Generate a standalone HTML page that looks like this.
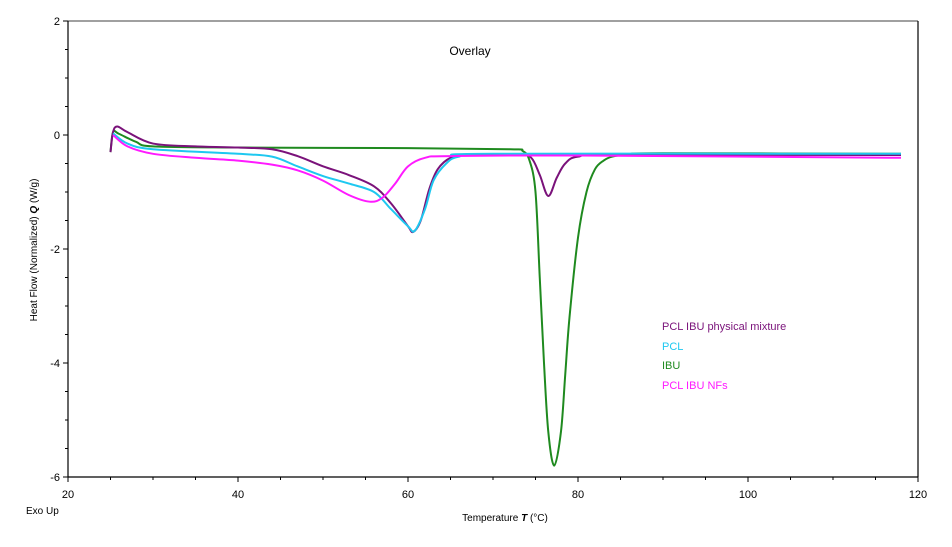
<!DOCTYPE html>
<html><head><meta charset="utf-8"><style>
html,body{margin:0;padding:0;background:#fff;}
svg{display:block;font-family:"Liberation Sans",Arial,sans-serif;}
</style></head><body>
<svg id="chart" width="952" height="547" viewBox="0 0 952 547">
<text x="470" y="55" font-size="12" text-anchor="middle">Overlay</text>
<g id="axes"></g>
<g id="series"></g>
<g font-size="11">
<text x="662" y="330" fill="#7a127a">PCL IBU physical mixture</text>
<text x="662" y="350" fill="#1ec8f0">PCL</text>
<text x="662" y="369" fill="#1f8a1f">IBU</text>
<text x="662" y="389" fill="#ff1aff">PCL IBU NFs</text>
</g>
<text x="26" y="514" font-size="10">Exo Up</text>
<text x="505" y="521" font-size="10" text-anchor="middle">Temperature <tspan font-style="italic" font-weight="bold">T</tspan> (°C)</text>
<text transform="translate(37,250) rotate(-90)" font-size="10" text-anchor="middle">Heat Flow (Normalized)  <tspan font-style="italic" font-weight="bold">Q</tspan>  (W/g)</text>
</svg>
<script>
const xTicks=[20,40,60,80,100,120];
const yTicks=[2,0,-2,-4,-6];
const mixT=[25,25.3,25.8,27,30,35,40,44,47,50,53,56,58,60,60.6,61.5,62.5,63.5,65,67,73,74.5,75.5,76.5,77.5,78.5,80,85,118];
const mixQ=[-0.3,0.05,0.15,0.05,-0.15,-0.2,-0.22,-0.25,-0.37,-0.55,-0.7,-0.9,-1.2,-1.6,-1.7,-1.5,-0.95,-0.6,-0.4,-0.35,-0.35,-0.4,-0.7,-1.07,-0.75,-0.5,-0.38,-0.35,-0.35];
const pclT=[25.3,27,30,40,44,47,50,53,56,58,60,60.8,62,63,64.5,66,70,118];
const pclQ=[0.03,-0.15,-0.25,-0.33,-0.38,-0.55,-0.72,-0.85,-1.0,-1.3,-1.6,-1.68,-1.3,-0.8,-0.5,-0.38,-0.33,-0.33];
const ibuT=[25,25.3,26,28,30,40,60,72,73.5,74.3,75,75.5,76,76.5,77.2,78,78.5,79,80,81,82,83,84,86,90,118];
const ibuQ=[-0.3,0.05,0.02,-0.12,-0.2,-0.22,-0.23,-0.25,-0.28,-0.45,-1.0,-2.5,-4.0,-5.2,-5.8,-5.2,-4.2,-3.2,-1.8,-1.0,-0.6,-0.45,-0.38,-0.34,-0.32,-0.33];
const nfT=[25.3,27,30,35,40,44,47,50,53,55.5,57,58.5,60,62,65,80,118];
const nfQ=[0,-0.2,-0.33,-0.4,-0.45,-0.52,-0.62,-0.8,-1.05,-1.17,-1.1,-0.85,-0.55,-0.4,-0.37,-0.36,-0.4];

const X0=68,X1=918,Y0=21,Y1=477;
const xs=t=>X0+(t-20)/100*(X1-X0);
const ys=q=>Y0+(2-q)/8*(Y1-Y0);
const NS="http://www.w3.org/2000/svg";
function mk(tag,attrs,parent){const e=document.createElementNS(NS,tag);for(const k in attrs)e.setAttribute(k,attrs[k]);parent.appendChild(e);return e;}
const axes=document.getElementById('axes');
let l;
l=mk('line',{x1:X0,y1:Y0,x2:X1,y2:Y0,stroke:'#808080','stroke-width':1.5},axes);


l=mk('line',{x1:X1,y1:Y0,x2:X1,y2:Y1,stroke:'#000','stroke-width':1.2},axes);


l=mk('line',{x1:X0,y1:Y0,x2:X0,y2:Y1,stroke:'#000','stroke-width':1.2},axes);


l=mk('line',{x1:X0,y1:Y1,x2:X1,y2:Y1,stroke:'#000','stroke-width':1.2},axes);


for(let t=20;t<=120;t+=5){const major=t%20===0;l=mk('line',{x1:xs(t),y1:Y1,x2:xs(t),y2:Y1+(major?5:3),stroke:'#000','stroke-width':1},axes);

}
for(let q=-6;q<=2;q+=0.5){const major=Math.abs(q%2)<1e-9;l=mk('line',{x1:X0-(major?5:3),y1:ys(q),x2:X0,y2:ys(q),stroke:'#000','stroke-width':1},axes);

}
xTicks.forEach(t=>{const e=mk('text',{x:xs(t),y:Y1+21,'font-size':11,'text-anchor':'middle'},axes);e.textContent=t;

});
yTicks.forEach(q=>{const e=mk('text',{x:X0-8,y:ys(q)+4,'font-size':11,'text-anchor':'end'},axes);e.textContent=q;

});
function path(T,Q){const p=T.map((t,i)=>[xs(t),ys(Q[i])]);let d='M'+p[0][0]+','+p[0][1];
for(let i=0;i<p.length-1;i++){const p0=p[Math.max(0,i-1)],p1=p[i],p2=p[i+1],p3=p[Math.min(p.length-1,i+2)];
const c1=[p1[0]+(p2[0]-p0[0])/6,p1[1]+(p2[1]-p0[1])/6],c2=[p2[0]-(p3[0]-p1[0])/6,p2[1]-(p3[1]-p1[1])/6];
d+=` C${c1[0]},${c1[1]} ${c2[0]},${c2[1]} ${p2[0]},${p2[1]}`;}return d;}
const ser=document.getElementById('series');
function draw(T,Q,c,name){const e=mk('path',{d:path(T,Q),fill:'none',stroke:c,'stroke-width':2,'stroke-linejoin':'round'},ser);

}
draw(ibuT,ibuQ,'#1f8a1f','series-ibu');
draw(mixT,mixQ,'#7a127a','series-mixture');
draw(pclT,pclQ,'#1ec8f0','series-pcl');
draw(nfT,nfQ,'#ff1aff','series-nfs');
</script>
</body></html>
